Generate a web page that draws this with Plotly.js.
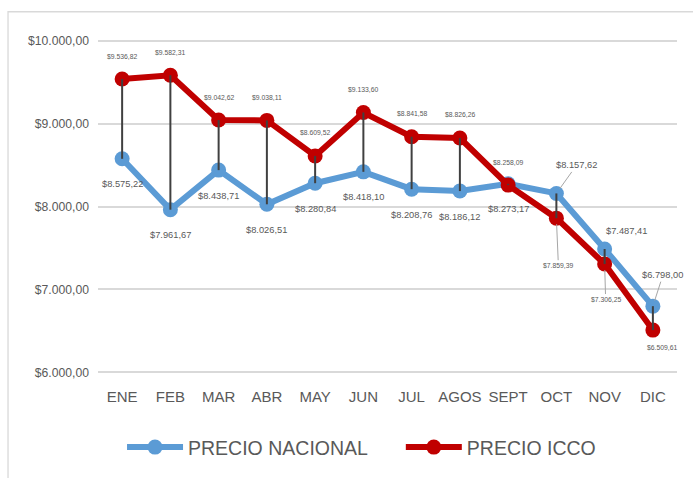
<!DOCTYPE html>
<html>
<head>
<meta charset="utf-8">
<script src="https://cdn.plot.ly/plotly-3.0.1.min.js"></script>
<style>
  html, body { margin: 0; padding: 0; background: #ffffff; }
  #chart { width: 693px; height: 478px; }
</style>
</head>
<body>
<div id="chart"></div>
<script>
// ---- data ----
var months = ['ENE', 'FEB', 'MAR', 'ABR', 'MAY', 'JUN', 'JUL', 'AGOS', 'SEPT', 'OCT', 'NOV', 'DIC'];
var precioNacional = [8575.22, 7961.67, 8438.71, 8026.51, 8280.84, 8418.10, 8208.76, 8186.12, 8273.17, 8157.62, 7487.41, 6798.00];
var precioIcco = [9536.82, 9582.31, 9042.62, 9038.11, 8609.52, 9133.60, 8841.58, 8826.26, 8258.09, 7859.39, 7306.25, 6509.61];
var yTicks = [6000, 7000, 8000, 9000, 10000];

var FONT = '"Liberation Sans", Arial, sans-serif';
var TXT = '#595959';
var BLUE = '#5b9bd5';
var RED = '#c00000';

function fmt(v) {
  var parts = v.toFixed(2).split('.');
  var intp = parts[0].replace(/\B(?=(\d{3})+(?!\d))/g, '.');
  return '$' + intp + ',' + parts[1];
}

var nacTrace = {
  type: 'scatter', mode: 'lines+markers', name: 'PRECIO NACIONAL',
  x: months, y: precioNacional,
  line: { color: BLUE, width: 6 },
  marker: { color: BLUE, size: 15 },
  legend: 'legend',
  hoverinfo: 'skip'
};
var iccoTrace = {
  type: 'scatter', mode: 'lines+markers', name: 'PRECIO ICCO',
  x: months, y: precioIcco,
  line: { color: RED, width: 6 },
  marker: { color: RED, size: 15 },
  legend: 'legend2',
  hoverinfo: 'skip'
};
// high-low (drop) lines between the two series
var dx = [], dy = [];
for (var i = 0; i < months.length; i++) {
  dx.push(months[i], months[i], null);
  dy.push(precioIcco[i], precioNacional[i], null);
}
var dropTrace = {
  type: 'scatter', mode: 'lines', x: dx, y: dy,
  line: { color: '#404040', width: 2 },
  showlegend: false, hoverinfo: 'skip'
};

// label placement overrides (pixel offsets from point)
var nacOverride = {
  'OCT': { arrow: true, ax: 20, ay: -28 },
  'NOV': { arrow: false, xs: 22, ys: 18 },
  'DIC': { arrow: true, ax: 10, ay: -31 }
};
var iccoOverride = {
  'OCT': { arrow: true, ax: 2, ay: 47 },
  'NOV': { arrow: true, ax: 1, ay: 35 },
  'DIC': { arrow: false, xs: 9, ys: -17 }
};

var annotations = [];
function addLabel(m, v, size, defShift, ov) {
  var a = {
    xref: 'x', yref: 'y', x: m, y: v, text: fmt(v),
    font: { family: FONT, size: size, color: TXT },
    showarrow: false
  };
  if (ov && ov.arrow) {
    a.showarrow = true; a.ax = ov.ax; a.ay = ov.ay;
    a.arrowhead = 0; a.arrowwidth = 1; a.arrowcolor = '#a6a6a6';
    a.standoff = 6;
  } else if (ov) {
    a.xshift = ov.xs; a.yshift = ov.ys;
  } else {
    a.yshift = defShift;
  }
  annotations.push(a);
}
for (var j = 0; j < months.length; j++) {
  addLabel(months[j], precioNacional[j], 9.3, -25.5, nacOverride[months[j]]);
  addLabel(months[j], precioIcco[j], 6.8, 23, iccoOverride[months[j]]);
}

var legendCommon = {
  orientation: 'h', yanchor: 'middle', xanchor: 'left', y: -0.2156,
  font: { family: FONT, size: 19.5, color: TXT },
  itemwidth: 56, bgcolor: 'rgba(0,0,0,0)'
};

var layout = {
  width: 693, height: 478,
  margin: { l: 98, r: 16, t: 39.3, b: 103.3 },
  paper_bgcolor: '#ffffff', plot_bgcolor: '#ffffff',
  font: { family: FONT, color: TXT },
  showlegend: true,
  xaxis: {
    type: 'category', range: [-0.5, 11.5],
    showgrid: false, zeroline: false, showline: false,
    ticks: '', ticklabelstandoff: 12, tickangle: 0,
    tickfont: { family: FONT, size: 15, color: TXT },
    fixedrange: true
  },
  yaxis: {
    range: [5980, 10020], tickmode: 'array', tickvals: yTicks,
    ticktext: yTicks.map(fmt),
    showgrid: true, gridcolor: '#d9d9d9', gridwidth: 2,
    zeroline: false, showline: false, ticks: '',
    ticklabelstandoff: 8,
    tickfont: { family: FONT, size: 12.2, color: TXT },
    fixedrange: true
  },
  legend: Object.assign({}, legendCommon, { x: 0.0415 }),
  legend2: Object.assign({}, legendCommon, { x: 0.523 }),
  annotations: annotations,
  shapes: [{
    type: 'rect', xref: 'paper', yref: 'paper',
    x0: -0.1554, x1: 1.3, y0: -0.6, y1: 1.0814,
    line: { color: '#d9d9d9', width: 1.3 }, fillcolor: 'rgba(0,0,0,0)', layer: 'below'
  }]
};

Plotly.newPlot('chart', [nacTrace, iccoTrace, dropTrace], layout, { staticPlot: true, displayModeBar: false });
</script>
</body>
</html>
